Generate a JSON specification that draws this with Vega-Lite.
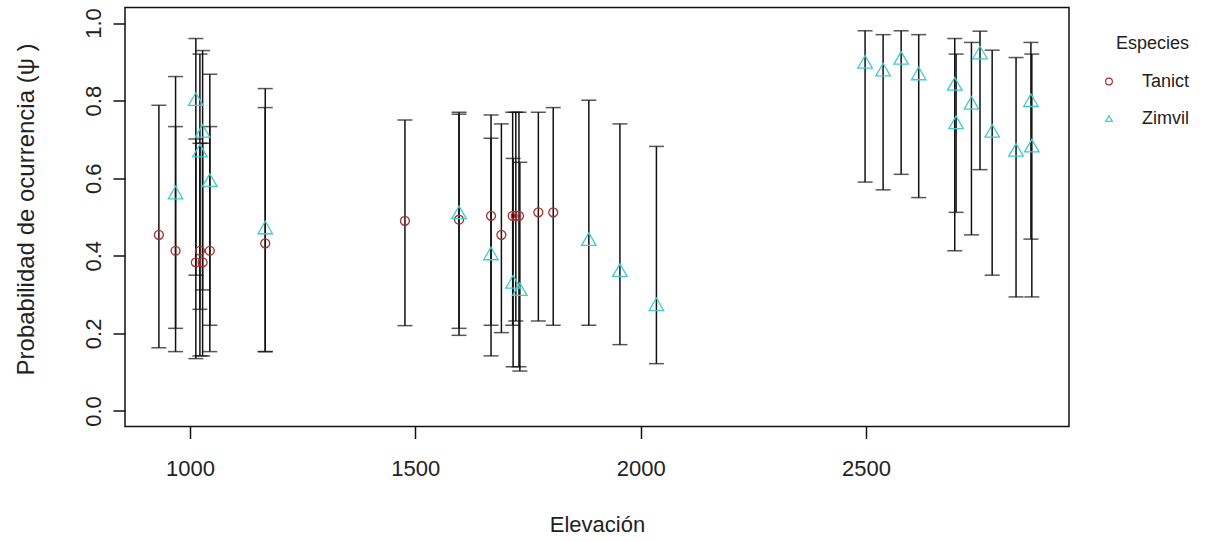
{
  "$schema": "https://vega.github.io/schema/vega-lite/v6.json",
  "width": 944,
  "height": 419,
  "autosize": {"type": "none"},
  "padding": {"left": 125, "top": 7.5, "right": 140, "bottom": 115.5},
  "background": "white",
  "data": {
    "values": [
      {"elev": 931, "sp": "Tanict", "psi": 0.454, "lo": 0.163, "hi": 0.788},
      {"elev": 968, "sp": "Tanict", "psi": 0.413, "lo": 0.153, "hi": 0.733},
      {"elev": 1013, "sp": "Tanict", "psi": 0.383, "lo": 0.135, "hi": 0.701},
      {"elev": 1022, "sp": "Tanict", "psi": 0.413, "lo": 0.142, "hi": 0.690},
      {"elev": 1028, "sp": "Tanict", "psi": 0.383, "lo": 0.142, "hi": 0.690},
      {"elev": 1044, "sp": "Tanict", "psi": 0.413, "lo": 0.153, "hi": 0.733},
      {"elev": 1167, "sp": "Tanict", "psi": 0.432, "lo": 0.153, "hi": 0.782},
      {"elev": 1477, "sp": "Tanict", "psi": 0.49, "lo": 0.22, "hi": 0.75},
      {"elev": 1597, "sp": "Tanict", "psi": 0.493, "lo": 0.195, "hi": 0.765},
      {"elev": 1668, "sp": "Tanict", "psi": 0.503, "lo": 0.221, "hi": 0.763},
      {"elev": 1691, "sp": "Tanict", "psi": 0.454, "lo": 0.202, "hi": 0.740},
      {"elev": 1716, "sp": "Tanict", "psi": 0.503, "lo": 0.221, "hi": 0.770},
      {"elev": 1723, "sp": "Tanict", "psi": 0.503, "lo": 0.232, "hi": 0.770},
      {"elev": 1730, "sp": "Tanict", "psi": 0.503, "lo": 0.114, "hi": 0.770},
      {"elev": 1773, "sp": "Tanict", "psi": 0.512, "lo": 0.232, "hi": 0.770},
      {"elev": 1806, "sp": "Tanict", "psi": 0.512, "lo": 0.221, "hi": 0.782},
      {"elev": 968, "sp": "Zimvil", "psi": 0.563, "lo": 0.213, "hi": 0.862},
      {"elev": 1013, "sp": "Zimvil", "psi": 0.804, "lo": 0.350, "hi": 0.960},
      {"elev": 1022, "sp": "Zimvil", "psi": 0.671, "lo": 0.262, "hi": 0.920},
      {"elev": 1028, "sp": "Zimvil", "psi": 0.722, "lo": 0.312, "hi": 0.929},
      {"elev": 1044, "sp": "Zimvil", "psi": 0.595, "lo": 0.221, "hi": 0.868},
      {"elev": 1167, "sp": "Zimvil", "psi": 0.473, "lo": 0.153, "hi": 0.831},
      {"elev": 1597, "sp": "Zimvil", "psi": 0.512, "lo": 0.213, "hi": 0.770},
      {"elev": 1668, "sp": "Zimvil", "psi": 0.406, "lo": 0.142, "hi": 0.703},
      {"elev": 1717, "sp": "Zimvil", "psi": 0.333, "lo": 0.114, "hi": 0.651},
      {"elev": 1732, "sp": "Zimvil", "psi": 0.314, "lo": 0.103, "hi": 0.641},
      {"elev": 1885, "sp": "Zimvil", "psi": 0.443, "lo": 0.221, "hi": 0.801},
      {"elev": 1954, "sp": "Zimvil", "psi": 0.363, "lo": 0.171, "hi": 0.740},
      {"elev": 2035, "sp": "Zimvil", "psi": 0.275, "lo": 0.122, "hi": 0.682},
      {"elev": 2498, "sp": "Zimvil", "psi": 0.90, "lo": 0.59, "hi": 0.98},
      {"elev": 2538, "sp": "Zimvil", "psi": 0.88, "lo": 0.57, "hi": 0.97},
      {"elev": 2578, "sp": "Zimvil", "psi": 0.91, "lo": 0.61, "hi": 0.98},
      {"elev": 2617, "sp": "Zimvil", "psi": 0.87, "lo": 0.55, "hi": 0.97},
      {"elev": 2697, "sp": "Zimvil", "psi": 0.843, "lo": 0.413, "hi": 0.960},
      {"elev": 2700, "sp": "Zimvil", "psi": 0.744, "lo": 0.512, "hi": 0.920},
      {"elev": 2734, "sp": "Zimvil", "psi": 0.794, "lo": 0.454, "hi": 0.950},
      {"elev": 2753, "sp": "Zimvil", "psi": 0.924, "lo": 0.622, "hi": 0.979},
      {"elev": 2780, "sp": "Zimvil", "psi": 0.722, "lo": 0.350, "hi": 0.930},
      {"elev": 2833, "sp": "Zimvil", "psi": 0.673, "lo": 0.294, "hi": 0.911},
      {"elev": 2866, "sp": "Zimvil", "psi": 0.801, "lo": 0.443, "hi": 0.950},
      {"elev": 2868, "sp": "Zimvil", "psi": 0.684, "lo": 0.294, "hi": 0.920}
    ]
  },
  "encoding": {
    "x": {
      "field": "elev", "type": "quantitative",
      "scale": {"domain": [855.8, 2950.5], "nice": false, "zero": false},
      "axis": {
        "title": "Elevación",
        "values": [1000, 1500, 2000, 2500],
        "format": "d",
        "labelBaseline": "alphabetic",
        "labelPadding": 37,
        "titleX": 472,
        "titleY": 105,
        "titleAlign": "center",
        "titleBaseline": "alphabetic"
      }
    }
  },
  "layer": [
    {
      "mark": {"type": "rule", "color": "#111", "strokeWidth": 1.5},
      "encoding": {
        "y": {
          "field": "lo", "type": "quantitative",
          "scale": {"domain": [-0.04, 1.04], "nice": false, "zero": false},
          "axis": {
            "title": "Probabilidad de ocurrencia (ψ )",
            "values": [0, 0.2, 0.4, 0.6, 0.8, 1.0],
            "format": ".1f",
            "labelAngle": -90,
            "labelAlign": "center",
            "labelBaseline": "alphabetic",
            "labelPadding": 13,
            "titleAngle": -90,
            "titleX": -92,
            "titleY": 201.5,
            "titleAlign": "center",
            "titleBaseline": "alphabetic",
            "titleFontSize": 24
          }
        },
        "y2": {"field": "hi"}
      }
    },
    {
      "mark": {"type": "tick", "orient": "horizontal", "color": "#111", "size": 15, "thickness": 1.5},
      "encoding": {"y": {"field": "lo", "type": "quantitative"}}
    },
    {
      "mark": {"type": "tick", "orient": "horizontal", "color": "#111", "size": 15, "thickness": 1.5},
      "encoding": {"y": {"field": "hi", "type": "quantitative"}}
    },
    {
      "transform": [{"filter": "datum.sp === 'Tanict'"}],
      "mark": {"type": "point", "filled": false, "strokeWidth": 1.3, "opacity": 1, "size": 80},
      "encoding": {
        "y": {"field": "psi", "type": "quantitative"},
        "color": {
          "field": "sp", "type": "nominal",
          "scale": {"domain": ["Tanict", "Zimvil"], "range": ["#a5302e", "#3fcad2"]},
          "legend": {"title": "Especies"}
        },
        "shape": {
          "field": "sp", "type": "nominal",
          "scale": {"domain": ["Tanict", "Zimvil"], "range": ["circle", "triangle-up"]},
          "legend": {"title": "Especies"}
        }
      }
    },
    {
      "transform": [{"filter": "datum.sp === 'Zimvil'"}],
      "mark": {"type": "point", "filled": false, "strokeWidth": 1.3, "opacity": 1, "size": 210},
      "encoding": {
        "y": {"field": "psi", "type": "quantitative"},
        "color": {"field": "sp", "type": "nominal", "legend": {"title": "Especies"}},
        "shape": {"field": "sp", "type": "nominal", "legend": {"title": "Especies"}}
      }
    }
  ],
  "config": {
    "font": "Liberation Sans",
    "view": {"stroke": "#111", "strokeWidth": 1.5},
    "axis": {
      "domain": false,
      "grid": false,
      "ticks": true,
      "tickColor": "#111",
      "tickWidth": 1.5,
      "tickSize": 12,
      "labelFont": "Liberation Sans",
      "titleFont": "Liberation Sans",
      "labelFontSize": 22,
      "titleFontSize": 22,
      "labelColor": "#222",
      "titleColor": "#222",
      "titleFontWeight": "normal"
    },
    "legend": {
      "orient": "none",
      "legendX": 975,
      "legendY": 27,
      "padding": 0,
      "titleFont": "Liberation Sans",
      "labelFont": "Liberation Sans",
      "titleFontSize": 18,
      "labelFontSize": 18,
      "titleFontWeight": "normal",
      "titleColor": "#222",
      "labelColor": "#222",
      "titleAnchor": "end",
      "titlePadding": 20,
      "rowPadding": 19,
      "labelOffset": 24,
      "symbolSize": 45,
      "symbolStrokeWidth": 1.2
    }
  }
}
